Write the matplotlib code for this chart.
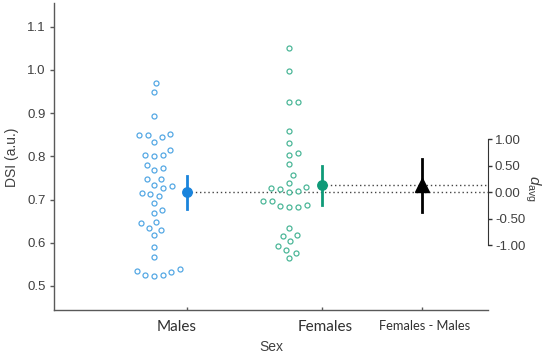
import numpy as np
import matplotlib
matplotlib.use("Agg")
import matplotlib.pyplot as plt
from matplotlib.transforms import ScaledTranslation

plt.rcParams['font.family'] = ['Liberation Sans', 'DejaVu Sans']
plt.rcParams['axes.unicode_minus'] = False
plt.rcParams['mathtext.fontset'] = 'custom'
plt.rcParams['mathtext.rm'] = 'Liberation Sans'
plt.rcParams['mathtext.it'] = 'Liberation Sans:italic'

# ---------------- data ----------------
categories = ["Males", "Females", "Females - Males"]
males = [0.969, 0.949, 0.894, 0.851, 0.850, 0.834, 0.844, 0.850, 0.815, 0.802,
         0.803, 0.803, 0.772, 0.769, 0.781, 0.748, 0.748, 0.727, 0.734, 0.731,
         0.714, 0.708, 0.716, 0.691, 0.670, 0.677, 0.645, 0.647, 0.630, 0.634,
         0.617, 0.590, 0.567, 0.532, 0.525, 0.539, 0.522, 0.534, 0.526]
females = [1.050, 0.998, 0.925, 0.925, 0.858, 0.831, 0.809, 0.803, 0.782, 0.758,
           0.739, 0.726, 0.724, 0.729, 0.721, 0.717, 0.687, 0.682, 0.697, 0.682,
           0.696, 0.685, 0.634, 0.616, 0.617, 0.603, 0.593, 0.577, 0.584, 0.564]
males_ci = [0.678, 0.755]
females_ci = [0.688, 0.778]
d_ci = [-0.37, 0.62]
y_ticks = [0.5, 0.6, 0.7, 0.8, 0.9, 1.0, 1.1]
d_ticks = [-1.0, -0.5, 0.0, 0.5, 1.0]

# ---------------- derived ----------------
m_m, m_f = np.mean(males), np.mean(females)
sd_avg = np.sqrt((np.var(males, ddof=1) + np.var(females, ddof=1)) / 2)
d_avg = (m_f - m_m) / sd_avg

# ---------------- layout / style ----------------
pos = [1.0, 2.0, 2.74]
swarm_shift = -0.245
c_m_dark, c_m_light = '#1a84dc', '#55a8e4'
c_f_dark, c_f_light = '#0f9a78', '#4cb798'
grey = '#404040'

fig = plt.figure(figsize=(5.5, 3.55), dpi=100)
ax = fig.add_axes([54/550, 45/355, 434/550, 307/355])
ax.set_xlim(0.015, 3.23)
ax.set_ylim(0.4444, 1.1551)

for s in ['top', 'right']:
    ax.spines[s].set_visible(False)
for s in ['left', 'bottom']:
    ax.spines[s].set_color('#595959')
    ax.spines[s].set_linewidth(1.0)

ax.set_yticks(y_ticks)
ax.set_yticklabels([f"{t:.1f}" for t in y_ticks])
ax.tick_params(axis='y', direction='out', length=3, width=1, colors='#595959',
               labelcolor=grey, labelsize=9.5, pad=3)
ax.set_xticks(pos)
ax.set_xticklabels(categories)
ax.tick_params(axis='x', direction='in', length=2, width=1, colors='#595959',
               labelcolor='#303030', pad=7)
label_shift_px = [-10, 3, 3]
for i, lab in enumerate(ax.get_xticklabels()):
    lab.set_family(['Lato', 'DejaVu Sans'])
    lab.set_fontsize(11 if i < 2 else 9.3)
    lab.set_transform(lab.get_transform() +
                      ScaledTranslation(label_shift_px[i] / 100, 0, fig.dpi_scale_trans))

ax.set_ylabel('DSI (a.u.)', fontsize=10, color=grey)
ax.yaxis.label.set_va('center')
ax.yaxis.set_label_coords(-0.0968, 0.498)
ax.set_xlabel('Sex', fontsize=10, color=grey)
ax.xaxis.set_label_coords(0.5, -0.097)

fig.canvas.draw()


def swarm(values, xc, d=9.0):
    pts = ax.transData.transform(np.column_stack([np.full(len(values), xc), values]))
    ys = pts[:, 1]
    x0 = pts[0, 0]
    order = np.argsort(ys)
    placed = []
    xs = np.zeros(len(values))
    for i in order:
        y = ys[i]
        cands = [0.0]
        for (xj, yj) in placed:
            dy = y - yj
            if abs(dy) < d:
                dx = np.sqrt(d * d - dy * dy)
                cands += [xj + dx, xj - dx]
        cands = sorted(cands, key=abs)
        for c in cands:
            if all((c - xj) ** 2 + (y - yj) ** 2 >= d * d - 1e-6 for (xj, yj) in placed):
                break
        placed.append((c, y))
        xs[i] = c
    out = ax.transData.inverted().transform(np.column_stack([x0 + xs, ys]))
    return out[:, 0]


xm = swarm(males, pos[0] + swarm_shift)
xf = swarm(females, pos[1] + swarm_shift)

ax.plot(xm, males, 'o', ms=3.6, mfc='white', mec=c_m_light, mew=0.9, zorder=3)
ax.plot(xf, females, 'o', ms=3.6, mfc='white', mec=c_f_light, mew=0.9, zorder=3)

# dotted reference lines
xr = ax.get_xlim()[1]
ax.plot([pos[0], xr], [m_m, m_m], ls=(0, (1, 2)), color='#444444', lw=1, zorder=2)
ax.plot([pos[1], xr], [m_f, m_f], ls=(0, (1, 2)), color='#444444', lw=1, zorder=2)

# means with CIs
ax.plot([pos[0], pos[0]], males_ci, color=c_m_dark, lw=2, zorder=4)
ax.plot(pos[0], m_m, 'o', ms=6.8, color=c_m_dark, zorder=5)
ax.plot([pos[1], pos[1]], females_ci, color=c_f_dark, lw=2, zorder=4)
ax.plot(pos[1], m_f, 'o', ms=6.8, color=c_f_dark, zorder=5)

# difference axis
ax2 = ax.twinx()
ax2.set_position(ax.get_position())
yl = np.array(ax.get_ylim())
ax2.set_ylim((yl - m_m) / sd_avg)
for s in ['top', 'left', 'bottom']:
    ax2.spines[s].set_visible(False)
ax2.spines['right'].set_bounds(-1, 1)
ax2.spines['right'].set_color('#333333')
ax2.set_yticks(d_ticks)
ax2.set_yticklabels([f"{t:.2f}" for t in d_ticks])
ax2.tick_params(axis='y', direction='out', length=3, width=1, colors='#333333',
                labelcolor=grey, labelsize=9.5, pad=2)
ax2.set_ylabel(r'$d_{\mathrm{avg}}$', fontsize=11, color=grey, rotation=270)
ax2.yaxis.label.set_va('center')
ax2.yaxis.set_label_coords(1.1037, 0.397)

ax2.plot([pos[2], pos[2]], d_ci, color='black', lw=2, zorder=4)
ax2.plot(pos[2], d_avg, '^', ms=9.5, color='black', zorder=5)

fig.savefig('out.png', dpi=100)
